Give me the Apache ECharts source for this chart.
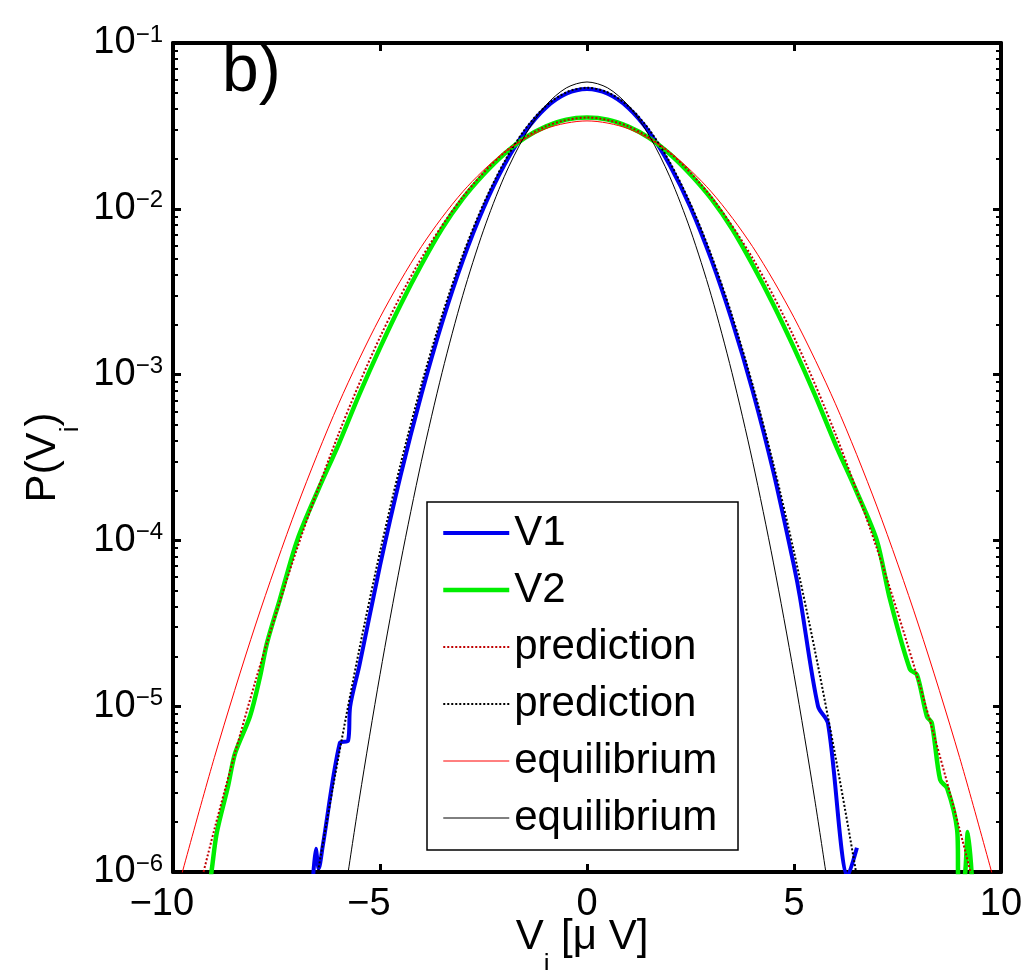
<!DOCTYPE html>
<html>
<head>
<meta charset="utf-8">
<script src="https://cdn.jsdelivr.net/npm/echarts@6/dist/echarts.min.js"></script>
<style>
  html, body { margin: 0; padding: 0; background: #fff; }
  #chart { width: 1031px; height: 970px; }
</style>
</head>
<body>
<div id="chart"></div>
<script>
// P(Vi) distributions: [V in uV, probability]

var v1 = [
  [-6.62, 8.9e-7], [-6.55, 1.38e-6], [-6.48, 1.05e-6], [-6.38, 1.45e-6], [-5.97, 6.0e-6],
  [-5.77, 6.2e-6], [-5.72, 1.0e-5], [-5.5, 1.75e-5], [-5, 7.05e-5], [-4.5, 2.48e-4],
  [-4, 7.6e-4], [-3.5, 2.06e-3], [-3, 4.88e-3], [-2.5, 1.01e-2], [-2, 1.83e-2],
  [-1.5, 2.91e-2], [-1, 4.06e-2], [-0.5, 4.94e-2], [0, 5.28e-2], [0.5, 4.94e-2],
  [1, 4.06e-2], [1.5, 2.91e-2], [2, 1.83e-2], [2.5, 1.02e-2], [3, 4.95e-3],
  [3.5, 2.12e-3], [4, 8.0e-4], [4.5, 2.6e-4], [5, 7.0e-5], [5.14, 4.6e-5],
  [5.58, 1.0e-5], [5.82, 7.9e-6], [6.3, 9.5e-7], [6.52, 1.4e-6]
];

var v2 = [
  [-9.12, 8.0e-7], [-9.06, 1.05e-6], [-8.94, 1.74e-6], [-8.67, 3.3e-6], [-8.5, 5.2e-6],
  [-8.14, 8.7e-6], [-7.9, 1.5e-5], [-7.73, 2.4e-5], [-7.42, 4.4e-5], [-7, 1.0e-4],
  [-6.5, 2.0e-4], [-6, 3.8e-4], [-5.5, 7.6e-4], [-5, 1.45e-3], [-4.5, 2.65e-3],
  [-4, 4.6e-3], [-3.5, 7.6e-3], [-3, 1.15e-2], [-2.5, 1.61e-2], [-2, 2.14e-2],
  [-1.5, 2.68e-2], [-1, 3.13e-2], [-0.5, 3.45e-2], [0, 3.55e-2], [0.5, 3.45e-2],
  [1, 3.13e-2], [1.5, 2.68e-2], [2, 2.14e-2], [2.5, 1.61e-2], [3, 1.15e-2],
  [3.5, 7.6e-3], [4, 4.6e-3], [4.5, 2.65e-3], [5, 1.45e-3], [5.5, 7.6e-4],
  [6, 3.8e-4], [6.5, 2.0e-4], [7, 1.0e-4], [7.32, 4.4e-5], [7.8, 1.67e-5],
  [7.97, 1.55e-5], [8.21, 8.7e-6], [8.33, 7.9e-6], [8.53, 3.6e-6], [8.7, 3.2e-6],
  [8.94, 1.8e-6], [8.98, 9.0e-7], [9.1, 9.0e-7], [9.2, 1.74e-6], [9.3, 9.0e-7]
];

var predRed = [
  [-10, 1.78e-7], [-9, 1.81e-6], [-8, 1.44e-5], [-7, 8.97e-5], [-6, 4.39e-4],
  [-5, 1.68e-3], [-4, 5.04e-3], [-3, 1.18e-2], [-2, 2.18e-2], [-1, 3.14e-2],
  [0, 3.55e-2], [1, 3.14e-2], [2, 2.18e-2], [3, 1.18e-2], [4, 5.04e-3],
  [5, 1.68e-3], [6, 4.39e-4], [7, 8.97e-5], [8, 1.44e-5], [9, 1.81e-6], [10, 1.78e-7]
];

var predBlack = [
  [-7, 1.75e-7], [-6.5, 9.95e-7], [-6, 4.99e-6], [-5.5, 2.2e-5], [-5, 8.51e-5],
  [-4.5, 2.9e-4], [-4, 8.67e-4], [-3.5, 2.28e-3], [-3, 5.27e-3], [-2.5, 1.07e-2],
  [-2, 1.91e-2], [-1.5, 3.01e-2], [-1, 4.15e-2], [-0.5, 5.04e-2], [0, 5.37e-2],
  [0.5, 5.04e-2], [1, 4.15e-2], [1.5, 3.01e-2], [2, 1.91e-2], [2.5, 1.07e-2],
  [3, 5.27e-3], [3.5, 2.28e-3], [4, 8.67e-4], [4.5, 2.9e-4], [5, 8.51e-5],
  [5.5, 2.2e-5], [6, 4.99e-6], [6.5, 9.95e-7], [7, 1.75e-7]
];

var eqRed = [
  [-10, 6.2e-7], [-9, 4.91e-6], [-8, 3.13e-5], [-7, 1.61e-4], [-6, 6.67e-4],
  [-5, 2.21e-3], [-4, 5.91e-3], [-3, 1.268e-2], [-2, 2.19e-2], [-1, 3.04e-2],
  [0, 3.39e-2], [1, 3.04e-2], [2, 2.19e-2], [3, 1.268e-2], [4, 5.91e-3],
  [5, 2.21e-3], [6, 6.67e-4], [7, 1.61e-4], [8, 3.13e-5], [9, 4.91e-6], [10, 6.2e-7]
];

var eqBlack = [
  [-6, 4.1e-7], [-5.5, 2.75e-6], [-5, 1.55e-5], [-4.5, 7.4e-5], [-4, 3.0e-4],
  [-3.5, 1.03e-3], [-3, 3.01e-3], [-2.5, 7.43e-3], [-2, 1.56e-2], [-1.5, 2.77e-2],
  [-1, 4.19e-2], [-0.5, 5.36e-2], [0, 5.82e-2], [0.5, 5.36e-2], [1, 4.19e-2],
  [1.5, 2.77e-2], [2, 1.56e-2], [2.5, 7.43e-3], [3, 3.01e-3], [3.5, 1.03e-3],
  [4, 3.0e-4], [4.5, 7.4e-5], [5, 1.55e-5], [5.5, 2.75e-6], [6, 4.1e-7]
];

// trailing spaces keep the repeated legend names apart
var seriesNames = ['V1', 'V2', 'prediction', 'prediction ', 'equilibrium', 'equilibrium '];

// minor log ticks (2..9 of every decade)
var minorTicks = [];
for (var e = -6; e < -1; e++) {
  for (var m = 2; m <= 9; m++) minorTicks.push(m * Math.pow(10, e));
}

var FONT = 'Liberation Sans';

var chart = echarts.init(document.getElementById('chart'));

function frameX(pos, showLabel) {
  return {
    type: 'value', position: pos, min: -10, max: 10, interval: 5,
    axisLine: { show: true, onZero: false, lineStyle: { color: '#000', width: 4 } },
    axisTick: { show: true, inside: true, length: 8, lineStyle: { color: '#000', width: 3 } },
    splitLine: { show: false },
    axisLabel: showLabel ? {
      margin: 14,
      formatter: function (v) {
        if (v < 0) return '{m|\u2212}{d|' + (-v) + '}{h|\u2212}';
        return '{d|' + v + '}';
      },
      rich: {
        m: { fontSize: 38, fontFamily: FONT, color: '#000' },
        d: { fontSize: 38, fontFamily: FONT, color: '#000' },
        h: { fontSize: 38, fontFamily: FONT, color: 'rgba(0,0,0,0)' }
      }
    } : { show: false }
  };
}

function frameY(pos, showLabel) {
  return {
    type: 'log', logBase: 10, position: pos, min: 1e-6, max: 1e-1,
    axisLine: { show: true, onZero: false, lineStyle: { color: '#000', width: 4 } },
    axisTick: { show: true, inside: true, length: 8, lineStyle: { color: '#000', width: 3 } },
    splitLine: { show: false },
    axisLabel: showLabel ? {
      margin: 10,
      formatter: function (v) {
        var ex = Math.round(Math.log10(v));
        return '{b|10}{s|' + (ex < 0 ? '\u2212' + (-ex) : ex) + '}';
      },
      rich: {
        b: { fontSize: 38, fontFamily: FONT, color: '#000', lineHeight: 40 },
        s: { fontSize: 24, fontFamily: FONT, color: '#000', verticalAlign: 'top', lineHeight: 12 }
      }
    } : { show: false }
  };
}

function minorY(pos) {
  return {
    type: 'log', logBase: 10, position: pos, min: 1e-6, max: 1e-1,
    axisLine: { show: false, onZero: false },
    axisTick: { show: true, inside: true, length: 5, customValues: minorTicks,
      lineStyle: { color: '#000', width: 2 } },
    axisLabel: { show: false },
    splitLine: { show: false }
  };
}

// subscript "i" sits well below the baseline
var nameRich = {
  n: { fontSize: 42, fontFamily: FONT, color: '#000', lineHeight: 42, verticalAlign: 'bottom', padding: [0, 0, 20, 0] },
  i: { fontSize: 26, fontFamily: FONT, color: '#000', lineHeight: 24, verticalAlign: 'bottom' }
};

var xBottom = frameX('bottom', true);
xBottom.name = '{n|V}{i|i}{n| [\u03bc V]}';
xBottom.nameLocation = 'middle';
xBottom.nameGap = 64;
xBottom.nameMoveOverlap = false;
xBottom.nameTextStyle = { padding: [0, 10, 0, 0], rich: nameRich };

var yLeft = frameY('left', true);
yLeft.name = '{n|P(V}{i|i}{n|)}';
yLeft.nameLocation = 'middle';
yLeft.nameGap = 89;
yLeft.nameRotate = 90;
yLeft.nameMoveOverlap = false;
yLeft.nameTextStyle = { rich: nameRich };

function lineSeries(name, data, color, width, type) {
  return {
    name: name, type: 'line', data: data, xAxisIndex: 0, yAxisIndex: 0,
    symbol: 'none', smooth: 0.3, clip: true,
    lineStyle: { color: color, width: width, type: type || 'solid' },
    itemStyle: { color: color },
    emphasis: { disabled: true }
  };
}

var option = {
  animation: false,
  backgroundColor: '#fff',
  grid: { left: 173, right: 30, top: 43, bottom: 98, containLabel: false, outerBoundsMode: 'none' },
  graphic: [{
    type: 'text', left: 222, top: 40,
    style: { text: 'b)', fontSize: 66, fontFamily: FONT, fill: '#000' }
  }],
  legend: {
    orient: 'vertical', left: 427, top: 502,
    data: seriesNames,
    itemWidth: 66, itemHeight: 44, itemGap: 13,
    padding: [9, 9, 10, 14],
    borderColor: '#000', borderWidth: 1.5, backgroundColor: '#fff',
    itemStyle: { opacity: 0 },
    lineStyle: { width: 'inherit' },
    textStyle: { fontSize: 42, fontFamily: FONT, color: '#000', lineHeight: 44 },
    selectedMode: false
  },
  xAxis: [xBottom, frameX('top', false)],
  yAxis: [yLeft, frameY('right', false), minorY('left'), minorY('right')],
  series: [
    lineSeries(seriesNames[0], v1, '#0000f0', 4),
    lineSeries(seriesNames[1], v2, '#00ee00', 4.5),
    lineSeries(seriesNames[2], predRed, '#c00000', 2, 'dotted'),
    lineSeries(seriesNames[3], predBlack, '#000', 2, 'dotted'),
    lineSeries(seriesNames[4], eqRed, '#ff0000', 1),
    lineSeries(seriesNames[5], eqBlack, '#000', 1)
  ]
};

chart.setOption(option);
</script>
</body>
</html>
